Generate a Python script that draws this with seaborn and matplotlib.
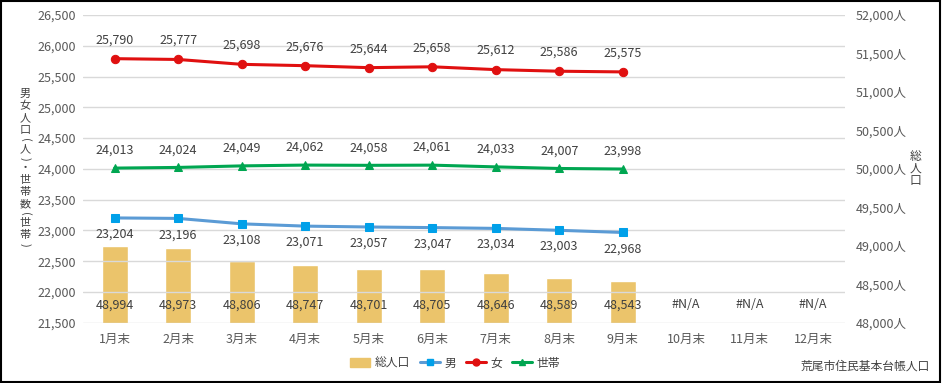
import matplotlib.pyplot as plt
import matplotlib.patches as mpatches
from matplotlib.lines import Line2D
from matplotlib.ticker import FuncFormatter
import seaborn as sns
import pandas as pd
import numpy as np

# data
months = ['1月末', '2月末', '3月末', '4月末', '5月末', '6月末',
          '7月末', '8月末', '9月末', '10月末', '11月末', '12月末']
total = [48994, 48973, 48806, 48747, 48701, 48705, 48646, 48589, 48543]
male = [23204, 23196, 23108, 23071, 23057, 23047, 23034, 23003, 22968]
female = [25790, 25777, 25698, 25676, 25644, 25658, 25612, 25586, 25575]
households = [24013, 24024, 24049, 24062, 24058, 24061, 24033, 24007, 23998]

# colors
c_bar = '#EBC46B'
c_male_line = '#5B9BD5'
c_male_mark = '#00A0E9'
c_female = '#E01010'
c_house = '#00A651'
c_text = '#404040'

sns.set_theme(style='white')
plt.rcParams['font.family'] = ['Noto Sans CJK JP', 'DejaVu Sans']

df_bar = pd.DataFrame({'month': months[:len(total)], 'total': total})
n = len(male)
df_line = pd.DataFrame({'x': np.arange(n), 'male': male,
                        'female': female, 'households': households})

fig = plt.figure(figsize=(9.42, 3.83), dpi=100)
ax = fig.add_axes([0.088, 0.157, 0.809, 0.804])
ax2 = ax.twinx()

# bars on the right axis
sns.barplot(data=df_bar, x='month', y='total', order=months, color=c_bar,
            width=0.41, saturation=1, ax=ax2)
ax2.set_ylim(48000, 52000)
ax2.set_yticks(np.arange(48000, 52001, 500))
ax2.yaxis.set_major_formatter(FuncFormatter(lambda v, p: f'{int(v):,}人'))
for i, v in enumerate(total):
    ax2.text(i, 48150, f'{v:,}', ha='center', va='bottom', fontsize=9, color=c_text)
for i in range(len(total), len(months)):
    ax2.text(i, 48150, '#N/A', ha='center', va='bottom', fontsize=9, color=c_text)

# lines on the left axis
ax.set_zorder(ax2.get_zorder() + 1)
ax.patch.set_visible(False)
sns.lineplot(data=df_line, x='x', y='male', color=c_male_line, lw=2.2,
             marker='s', ms=6, markerfacecolor=c_male_mark, markeredgecolor=c_male_mark, ax=ax)
sns.lineplot(data=df_line, x='x', y='female', color=c_female, lw=2.2,
             marker='o', ms=6, markerfacecolor=c_female, markeredgecolor=c_female, ax=ax)
sns.lineplot(data=df_line, x='x', y='households', color=c_house, lw=2.2,
             marker='^', ms=6, markerfacecolor=c_house, markeredgecolor=c_house, ax=ax)

for i in range(n):
    ax.annotate(f'{female[i]:,}', (i, female[i]), xytext=(0, 9), textcoords='offset points',
                ha='center', va='bottom', fontsize=9, color=c_text)
    ax.annotate(f'{households[i]:,}', (i, households[i]), xytext=(0, 8), textcoords='offset points',
                ha='center', va='bottom', fontsize=9, color=c_text)
    ax.annotate(f'{male[i]:,}', (i, male[i]), xytext=(0, -7), textcoords='offset points',
                ha='center', va='top', fontsize=9, color=c_text)

ax.set_ylim(21500, 26500)
ax.set_yticks(np.arange(21500, 26501, 500))
ax.yaxis.set_major_formatter(FuncFormatter(lambda v, p: f'{int(v):,}'))
ax.set_xlim(-0.5, len(months) - 0.5)
ax2.set_xlim(-0.5, len(months) - 0.5)
ax.set_xticks(range(len(months)))
ax.set_xticklabels(months)
ax.grid(axis='y', color='#D9D9D9', lw=1)
ax.set_xlabel('')
ax.set_ylabel('')
ax2.set_xlabel('')
ax2.set_ylabel('')

for a in (ax, ax2):
    for s in a.spines.values():
        s.set_visible(False)
    a.tick_params(length=0, labelsize=9, labelcolor='#595959')
ax.tick_params(axis='y', pad=5)
ax.tick_params(axis='x', pad=7)
ax2.tick_params(axis='y', pad=8)

# vertical axis titles (stacked characters, parentheses turned sideways)
left_title = '男女人口(人)・世帯数(世帯)'
H = 383.0
y_px = 88.0
for ch in left_title:
    paren = ch in '()'
    step = 7.0 if paren else 12.0
    fig.text(0.027, 1 - (y_px + step / 2) / H, ch, ha='center', va='center',
             rotation=-90 if paren else 0, rotation_mode='anchor',
             fontsize=8, color=c_text)
    y_px += step
fig.text(0.972, 0.56, '\n'.join('総人口'), ha='center', va='center',
         fontsize=8.5, color=c_text, linespacing=0.9)

# legend
handles = [mpatches.Patch(color=c_bar),
           Line2D([], [], color=c_male_line, lw=2.2, marker='s', ms=5,
                  markerfacecolor=c_male_mark, markeredgecolor=c_male_mark),
           Line2D([], [], color=c_female, lw=2.2, marker='o', ms=5),
           Line2D([], [], color=c_house, lw=2.2, marker='^', ms=5)]
fig.legend(handles, ['総人口', '男', '女', '世帯'], loc='center', bbox_to_anchor=(0.483, 0.052),
           ncol=4, frameon=False, fontsize=8.5, handlelength=1.7, columnspacing=0.8,
           handletextpad=0.4, labelcolor=c_text)

fig.text(0.987, 0.045, '荒尾市住民基本台帳人口', ha='right', va='center', fontsize=8.5, color=c_text)

# border
fig.patches.append(mpatches.Rectangle((0.001, 0.002), 0.997, 0.995, transform=fig.transFigure,
                                      fill=False, edgecolor='black', lw=1.5))

fig.savefig('out.png', dpi=100)
